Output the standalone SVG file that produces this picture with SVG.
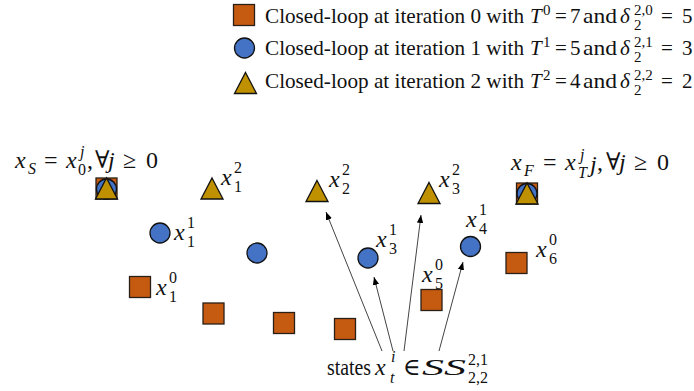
<svg xmlns="http://www.w3.org/2000/svg" width="694" height="391" viewBox="0 0 694 391">
<style>
text{font-family:"Liberation Serif","DejaVu Serif","Times New Roman",serif;font-size:24px;fill:#111}
.m{font-style:italic}
.s{font-size:16px}
.ls{font-size:15px}
.lg{font-size:21px}
.sq{fill:#C55A11;stroke:#2a2018;stroke-width:1.3}
.ci{fill:#4472C4;stroke:#111;stroke-width:1.3}
.tr{fill:#BF9000;stroke:#111;stroke-width:1.3}
.ar{stroke:#444;stroke-width:1;fill:none;marker-end:url(#ah)}
</style>
<defs>
<marker id="ah" markerWidth="8" markerHeight="8" refX="8" refY="4" orient="auto" markerUnits="userSpaceOnUse">
<path d="M0,0.8 L8,4 L0,7.2 Z" fill="#000"/>
</marker>
<rect id="sqr" class="sq" width="21" height="21"/>
<circle id="cir" class="ci" r="10"/>
<path id="tri" class="tr" d="M0,-10.5 L11,10.5 L-11,10.5 Z"/>
</defs>

<g id="legend">
<use href="#sqr" x="233.5" y="4.5"/>
<use href="#cir" x="244.5" y="48"/>
<use href="#tri" x="245.5" y="83"/>
<text class="lg" x="265" y="23" textLength="259" lengthAdjust="spacingAndGlyphs">Closed-loop at iteration 0 with</text>
<text class="lg m" x="530" y="23">T</text><text class="ls" x="543" y="15">0</text>
<text class="lg" x="555" y="23">=</text><text class="lg" x="570" y="23">7</text><text class="lg" x="583" y="23" textLength="34" lengthAdjust="spacingAndGlyphs">and</text>
<text class="lg m" x="620" y="23">δ</text><text class="ls" x="634" y="15">2,0</text><text class="ls" x="634" y="30">2</text>
<text class="lg" x="661" y="23">=</text><text class="lg" x="682" y="23">5</text>

<text class="lg" x="265" y="55" textLength="259" lengthAdjust="spacingAndGlyphs">Closed-loop at iteration 1 with</text>
<text class="lg m" x="530" y="55">T</text><text class="ls" x="543" y="47">1</text>
<text class="lg" x="555" y="55">=</text><text class="lg" x="570" y="55">5</text><text class="lg" x="583" y="55" textLength="34" lengthAdjust="spacingAndGlyphs">and</text>
<text class="lg m" x="620" y="55">δ</text><text class="ls" x="634" y="47">2,1</text><text class="ls" x="634" y="62">2</text>
<text class="lg" x="661" y="55">=</text><text class="lg" x="682" y="55">3</text>

<text class="lg" x="265" y="88" textLength="259" lengthAdjust="spacingAndGlyphs">Closed-loop at iteration 2 with</text>
<text class="lg m" x="530" y="88">T</text><text class="ls" x="543" y="80">2</text>
<text class="lg" x="555" y="88">=</text><text class="lg" x="570" y="88">4</text><text class="lg" x="583" y="88" textLength="34" lengthAdjust="spacingAndGlyphs">and</text>
<text class="lg m" x="620" y="88">δ</text><text class="ls" x="634" y="80">2,2</text><text class="ls" x="634" y="95">2</text>
<text class="lg" x="661" y="88">=</text><text class="lg" x="682" y="88">2</text>
</g>

<g id="start">
<use href="#sqr" x="96" y="178"/>
<use href="#cir" x="106.5" y="189"/>
<use href="#tri" x="106.5" y="188.5"/>
<text class="m" x="15" y="168">x</text><text class="s m" x="28" y="174">S</text>
<text x="44" y="168">=</text>
<text class="m" x="66" y="168">x</text><text class="s m" x="80" y="157">j</text><text class="s" x="78" y="175">0</text>
<text x="87" y="168">,</text>
<text x="95" y="168">∀</text><text class="m" x="108" y="168">j</text>
<text x="123" y="168">≥</text><text x="146" y="168">0</text>
</g>

<g id="end">
<use href="#sqr" x="516.5" y="183"/>
<use href="#cir" x="527" y="193.5"/>
<use href="#tri" x="527" y="193.5"/>
<text class="m" x="511" y="170">x</text><text class="s m" x="524" y="176">F</text>
<text x="543" y="170">=</text>
<text class="m" x="565" y="170">x</text><text class="s m" x="580" y="160">j</text><text class="s m" x="578" y="178">T</text><text class="m" x="590" y="172" font-size="11">j</text>
<text x="597" y="170">,</text>
<text x="606" y="170">∀</text><text class="m" x="619" y="170">j</text>
<text x="634" y="170">≥</text><text x="657" y="170">0</text>
</g>

<g id="iter0">
<use href="#sqr" x="129.5" y="276.5"/>
<use href="#sqr" x="203" y="303"/>
<use href="#sqr" x="273.5" y="312.5"/>
<use href="#sqr" x="334.5" y="318.5"/>
<use href="#sqr" x="421" y="289.5"/>
<use href="#sqr" x="506" y="252.5"/>
<text class="m" x="156" y="295">x</text><text class="s" x="169" y="283">0</text><text class="s" x="169" y="302">1</text>
<text class="m" x="422" y="282">x</text><text class="s" x="435" y="270">0</text><text class="s" x="435" y="289">5</text>
<text class="m" x="536" y="257">x</text><text class="s" x="549" y="245">0</text><text class="s" x="549" y="264">6</text>
</g>

<g id="iter1">
<use href="#cir" x="160" y="233"/>
<use href="#cir" x="257" y="253"/>
<use href="#cir" x="368" y="258"/>
<use href="#cir" x="470.5" y="246.5"/>
<text class="m" x="174" y="240">x</text><text class="s" x="187" y="228">1</text><text class="s" x="187" y="247">1</text>
<text class="m" x="376" y="247">x</text><text class="s" x="389" y="235">1</text><text class="s" x="389" y="254">3</text>
<text class="m" x="466" y="227">x</text><text class="s" x="479" y="215">1</text><text class="s" x="479" y="234">4</text>
</g>

<g id="iter2">
<use href="#tri" x="212" y="188.5"/>
<use href="#tri" x="317" y="191"/>
<use href="#tri" x="429" y="193"/>
<text class="m" x="221" y="185">x</text><text class="s" x="234" y="173">2</text><text class="s" x="234" y="192">1</text>
<text class="m" x="329" y="187">x</text><text class="s" x="342" y="175">2</text><text class="s" x="342" y="194">2</text>
<text class="m" x="439" y="187">x</text><text class="s" x="452" y="175">2</text><text class="s" x="452" y="194">3</text>
</g>

<g id="connectors">
<line class="ar" x1="382" y1="351" x2="326" y2="212"/>
<line class="ar" x1="393" y1="351" x2="374" y2="277"/>
<line class="ar" x1="404" y1="351" x2="421" y2="215"/>
<line class="ar" x1="439" y1="351" x2="463" y2="262"/>
</g>

<g id="states">
<text x="327" y="375" textLength="44" lengthAdjust="spacingAndGlyphs">states</text>
<text class="m" x="375" y="375">x</text><text class="s m" x="391" y="362">i</text><text class="s m" x="390" y="383">t</text>
<text x="403" y="375">∈</text>
<text class="m" x="422" y="375" textLength="44" lengthAdjust="spacingAndGlyphs">SS</text>
<text class="s" x="468" y="365">2,1</text><text class="s" x="468" y="383">2,2</text>
</g>
</svg>
